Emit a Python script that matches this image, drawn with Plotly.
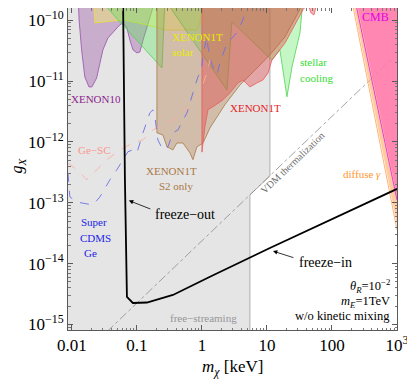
import plotly.graph_objects as go

TOP = 3e-10  # above the plotted range, used to close the exclusion regions

# free-streaming region (grey) and VDM thermalization line
fs_m = [0.005, 5.47, 5.47, 11.1, 11.1, 0.005]
fs_g = [5e-16, 5e-16, 1.35e-13, 2.76e-13, TOP, TOP]
therm_m = [0.0345, 870]
therm_g = [7.6e-16, 2.4e-11]

# XENON10
x10_m = [0.0124, 0.0129, 0.0141, 0.0158, 0.0183, 0.0203, 0.024, 0.027, 0.030, 0.0358,
         0.046, 0.0547, 0.061, 0.070, 0.078, 0.087, 0.100, 0.111, 0.124, 0.148, 0.176, 0.189]
x10_g = [TOP, 1.01e-10, 3.25e-11, 1.17e-11, 8.0e-12, 8.0e-12, 1.12e-11, 2.0e-11, 3.25e-11, 5.1e-11,
         6.9e-11, 8.4e-11, 9.0e-11, 7.5e-11, 4.7e-11, 3.25e-11, 2.9e-11, 3.0e-11, 4.7e-11, 9.0e-11, 1.6e-10, TOP]

# XENON1T solar
solar_m = [0.021, 0.0226, 0.0322, 0.061, 0.104, 0.189, 0.27, 0.84, 0.93, 1.1]
solar_g = [TOP, 9.0e-11, 9.4e-11, 1.01e-10, 9.0e-11, 7.8e-11, 6.9e-11, 6.9e-11, 9.0e-11, TOP]

# stellar cooling
stellar_m = [0.027, 0.243, 0.27, 2.43, 2.89, 11.9, 15.8, 20.3, 24.3, 32.2, 35.8]
stellar_g = [2.16e-10, 1.64e-11, 2.16e-10, 7.1e-12, 9.4e-11, 2.2e-11, 3.25e-11, 5.5e-12, 1.71e-11, 6.2e-11, 2.16e-10]

# XENON1T S2 only
s2_m = [0.203, 0.203, 0.251, 0.29, 0.358, 0.412, 0.51, 0.654, 0.727, 0.838, 1.04,
        1.33, 2.26, 3.84, 6.5, 11.1, 18.9, 32.2, 35.8]
s2_g = [TOP, 1.41e-12, 1.30e-12, 8.3e-13, 7.4e-13, 9.6e-13, 9.6e-13, 6.6e-13, 5.1e-13, 8.3e-13, 9.6e-13,
        1.7e-12, 4.1e-12, 8.6e-12, 1.5e-11, 2.7e-11, 5.3e-11, 1.5e-10, TOP]

# XENON1T
x1t_m = [1.0, 1.0, 1.11, 1.24, 1.46, 2.10, 2.7, 3.58, 4.27, 5.47, 7.0, 8.67, 10.4,
         11.9, 18.9, 27.0, 35.8, 42.7, 47.5, 52.8, 58.7, 65.3]
x1t_g = [TOP, 6.8e-13, 1.77e-12, 3.4e-12, 3.76e-12, 4.9e-12, 6.4e-12, 9.3e-12, 1.04e-11, 8.0e-12, 9.3e-12, 1.04e-11, 1.36e-11,
         2.2e-11, 4.2e-11, 8.4e-11, 1.48e-10, 1.85e-10, 1.32e-10, 1.22e-10, 1.78e-10, TOP]

# SuperCDMS Ge (dashed)
cdms_m = [0.0087, 0.0093, 0.0119, 0.021, 0.027, 0.0385, 0.0492, 0.0654, 0.0727, 0.0867, 0.100,
          0.124, 0.158, 0.176, 0.189, 0.210, 0.251, 0.30, 0.358, 0.427, 0.588, 0.727, 0.867,
          0.98, 1.04, 1.19, 1.24, 1.43, 1.70, 1.89, 2.43, 3.45, 4.27, 5.1]
cdms_g = [3.1e-13, 1.25e-13, 1.03e-13, 9.2e-14, 1.25e-13, 2.4e-13, 3.5e-13, 5.7e-13, 6.9e-13, 7.4e-13, 6.6e-13,
          1.41e-12, 3.0e-12, 3.36e-12, 2.6e-12, 1.08e-12, 7.4e-13, 8.3e-13, 1.41e-12, 1.57e-12, 3.0e-12, 6.4e-12, 1.17e-11,
          1.5e-11, 2.7e-11, 5.3e-11, 3.6e-11, 1.84e-11, 1.26e-11, 2.0e-11, 4.2e-11, 6.2e-11, 1.01e-10, 2.2e-10]

# Ge-SC (dashed)
gesc_m = [0.0087, 0.0119, 0.017, 0.0243, 0.0345, 0.0547, 0.0867, 0.124, 0.176, 0.358, 0.654, 0.93, 1.19, 1.33]
gesc_g = [4.5e-13, 3.5e-13, 2.4e-13, 3.5e-13, 5.1e-13, 7.4e-13, 9.6e-13, 1.08e-12, 1.57e-12, 2.3e-12,
          3.8e-12, 6.4e-12, 1.36e-11, 2.2e-11]

# diffuse gamma and CMB
gamma_m = [195, 1100, 1100]
gamma_g = [TOP, TOP, 2.6e-14]
gamma_edge_m = [201, 1000]
gamma_edge_g = [2.16e-10, 3.6e-14]
cmb_m = [220, 1100, 1100]
cmb_g = [TOP, TOP, 8.0e-14]
cmb_edge_m = [226, 1000]
cmb_edge_g = [2.16e-10, 1.11e-13]

# freeze-out / freeze-in relic curve
relic_m = [0.061, 0.0654, 0.0702, 0.0867, 0.1425, 0.358, 1.33, 11.1, 1000]
relic_g = [TOP, 2.4e-13, 2.84e-15, 2.26e-15, 2.3e-15, 3.06e-15, 6.1e-15, 1.81e-14, 1.69e-13]

SERIF = "Liberation Serif"

fig = go.Figure()


def region(m, g, fill, line, lw=0.8):
    fig.add_trace(go.Scatter(x=m, y=g, mode="lines", fill="toself", fillcolor=fill,
                             line=dict(color=line, width=lw), hoverinfo="skip"))


def curve(m, g, color, width, dash="solid"):
    fig.add_trace(go.Scatter(x=m, y=g, mode="lines", line=dict(color=color, width=width, dash=dash),
                             hoverinfo="skip"))


region(fs_m, fs_g, "rgb(229,229,229)", "rgb(175,175,175)", 1)
curve(therm_m, therm_g, "rgb(140,140,140)", 0.8, "dashdot")
region(x10_m, x10_g, "rgba(150,70,160,0.35)", "rgb(150,80,170)")
region(solar_m, solar_g, "rgba(255,255,80,0.35)", "rgb(235,225,50)")
region(stellar_m + [35.8, 0.027], stellar_g + [TOP, TOP], "rgba(90,230,90,0.35)", "rgb(80,210,80)")
region(s2_m, s2_g, "rgba(181,131,81,0.4)", "rgb(170,120,70)")
region(x1t_m, x1t_g, "rgba(225,70,70,0.4)", "rgb(235,90,90)")
curve(gesc_m, gesc_g, "rgb(250,175,165)", 0.9, "dash")
curve(cdms_m, cdms_g, "rgb(110,110,230)", 0.9, "dash")
region(gamma_m, gamma_g, "rgba(255,175,110,0.65)", "rgba(0,0,0,0)", 0)
curve(gamma_edge_m, gamma_edge_g, "rgb(255,180,120)", 1)
region(cmb_m, cmb_g, "rgba(255,90,190,0.6)", "rgba(0,0,0,0)", 0)
curve(cmb_edge_m, cmb_edge_g, "rgb(230,60,220)", 1)
curve(relic_m, relic_g, "black", 1.8)


def label(text, x, y, color, size=11, xanchor="center", angle=0):
    fig.add_annotation(text=text, x=x, y=y, xref="paper", yref="paper", showarrow=False,
                       xanchor=xanchor, yanchor="middle", textangle=angle,
                       font=dict(family=SERIF, size=size, color=color))


label("XENON10", 0.085, 0.717, "rgb(140,30,140)")
label("Ge−SC", 0.079, 0.559, "rgb(250,150,140)")
label("XENON1T", 0.310, 0.910, "rgb(235,235,0)", xanchor="left")
label("solar", 0.310, 0.863, "rgb(235,235,0)", xanchor="left")
label("XENON1T", 0.316, 0.494, "rgb(170,120,70)")
label("S2 only", 0.328, 0.447, "rgb(170,120,70)")
label("Super", 0.079, 0.335, "rgb(30,30,230)")
label("CDMS", 0.085, 0.286, "rgb(30,30,230)")
label("Ge", 0.067, 0.239, "rgb(30,30,230)")
label("XENON1T", 0.571, 0.689, "rgb(230,30,30)")
label("stellar", 0.699, 0.832, "rgb(50,220,50)", xanchor="left")
label("cooling", 0.699, 0.783, "rgb(50,220,50)", xanchor="left")
label("CMB", 0.936, 0.972, "rgb(230,0,230)", size=12)
label("diffuse <i>γ</i>", 0.894, 0.484, "rgb(255,150,50)")
label("VDM thermalization", 0.684, 0.519, "rgb(110,110,110)", size=10, angle=-43.8)
label("free−streaming", 0.413, 0.037, "rgb(150,150,150)")
label("freeze−out", 0.356, 0.360, "black", size=14)
label("freeze−in", 0.784, 0.211, "black", size=14)
label("<i>θ</i><sub><i>R</i></sub>=10<sup>−2</sup>", 0.985, 0.136, "black", size=12.5, xanchor="right")
label("<i>m</i><sub><i>E</i></sub>=1TeV", 0.985, 0.087, "black", size=12.5, xanchor="right")
label("w/o kinetic mixing", 0.985, 0.043, "black", size=12.5, xanchor="right")
label("<i>g</i><sub><i>X</i></sub>", -0.154, 0.512, "black", size=16, angle=-90)
label("<i>m</i><sub><i>χ</i></sub> [keV]", 0.5, -0.118, "black", size=17)

for x, y, ax, ay in [(0.185, 0.402, 23, 9), (0.623, 0.245, 22, 7)]:
    fig.add_annotation(x=x, y=y, xref="paper", yref="paper", text="", showarrow=True,
                       ax=ax, ay=ay, arrowhead=2, arrowsize=1.1, arrowwidth=0.8, arrowcolor="black")

x_ticks = [0.01, 0.1, 1, 10, 100, 1000]
x_labels = ["0.01", "0.1", "1", "10", "100", "10<sup>3</sup>"]
y_ticks = [1e-15, 1e-14, 1e-13, 1e-12, 1e-11, 1e-10]
y_labels = ["10<sup>−15</sup>", "10<sup>−14</sup>", "10<sup>−13</sup>", "10<sup>−12</sup>",
            "10<sup>−11</sup>", "10<sup>−10</sup>"]
x_minor = [k * 10.0 ** e for e in range(-3, 3) for k in range(2, 10)]
y_minor = [k * 10.0 ** e for e in range(-16, -9) for k in range(2, 10)]

axis_style = dict(showgrid=False, zeroline=False, showline=True, linecolor="rgb(90,90,90)",
                  linewidth=1, mirror="allticks", ticks="inside", ticklen=5, tickcolor="rgb(90,90,90)",
                  ticklabeloverflow="allow",
                  tickfont=dict(family=SERIF, size=17, color="black"))

fig.update_xaxes(type="log", range=[-2.06, 3.0], tickmode="array", tickvals=x_ticks, ticktext=x_labels,
                 minor=dict(ticks="inside", ticklen=2.5, tickcolor="rgb(120,120,120)",
                            tickmode="array", tickvals=x_minor),
                 **axis_style)
fig.update_yaxes(type="log", range=[-15.09, -9.80], tickmode="array", tickvals=y_ticks, ticktext=y_labels,
                 minor=dict(ticks="inside", ticklen=2.5, tickcolor="rgb(120,120,120)",
                            tickmode="array", tickvals=y_minor),
                 **axis_style)

# the page body adds an 8 px offset, so the figure is sized to fit the window
fig.update_layout(width=407, height=375, margin=dict(l=60, r=18, t=0, b=53),
                  plot_bgcolor="white", paper_bgcolor="white", showlegend=False)

fig.write_html("out.html")
